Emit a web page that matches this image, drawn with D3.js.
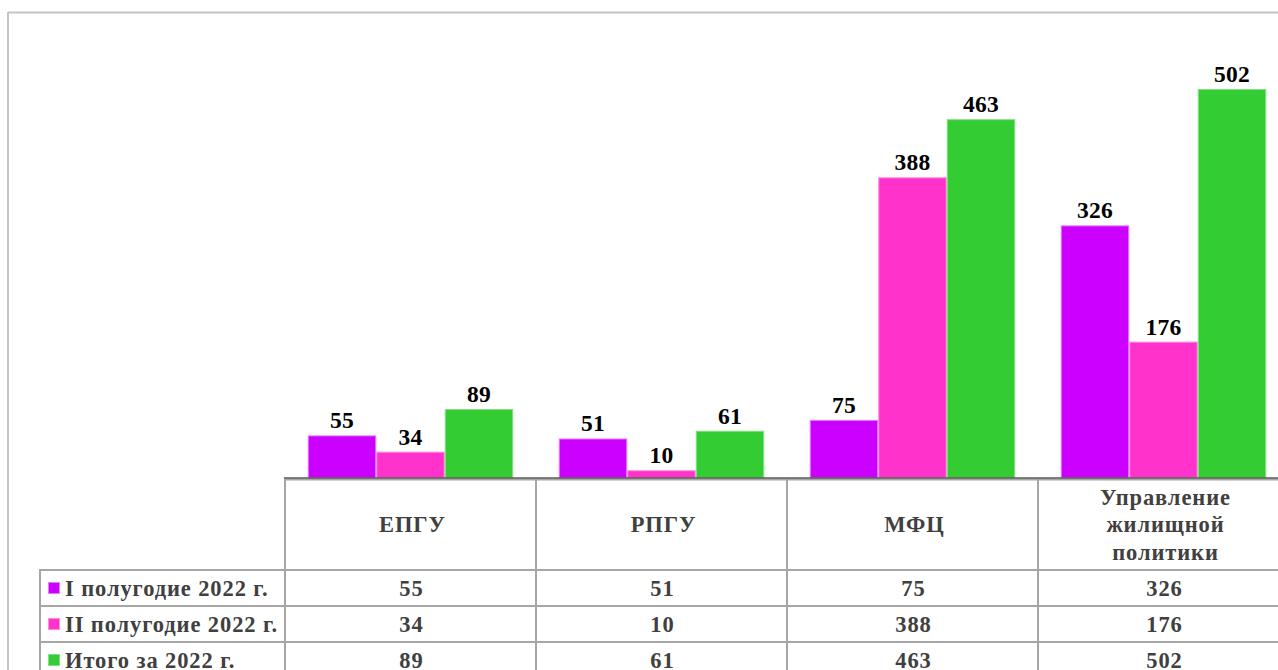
<!DOCTYPE html>
<html><head><meta charset="utf-8">
<script src="https://cdn.jsdelivr.net/npm/d3@7"></script>
<style>
html,body{margin:0;padding:0;background:#fff;}
svg{display:block;}
text{font-family:"Liberation Serif","Times New Roman",serif;font-weight:bold;}
</style></head>
<body>
<svg id="chart" width="1278" height="670"></svg>
<script>
const categories = ["ЕПГУ", "РПГУ", "МФЦ", "Управление жилищной политики"];
const categoryLines = [["ЕПГУ"], ["РПГУ"], ["МФЦ"], ["Управление", "жилищной", "политики"]];
const seriesNames = ["I полугодие 2022 г.", "II полугодие 2022 г.", "Итого за 2022 г."];
const half1 = [55, 51, 75, 326];
const half2 = [34, 10, 388, 176];
const total = [89, 61, 463, 502];
const seriesValues = [half1, half2, total];
const fills = ["#cc00ff", "#ff33cc", "#33cc33"];
const strokes = ["#e27dff", "#ff8ce0", "#85e085"];

const svg = d3.select("#chart");
const W = 1278, H = 670;
const x0 = 285, colW = 251;
const baseY = 478, topY = 13;

// outer frame
svg.append("line").attr("x1", 8).attr("x2", W).attr("y1", 12.5).attr("y2", 12.5)
  .attr("stroke", "#c4c4c4").attr("stroke-width", 2);
svg.append("line").attr("x1", 8).attr("x2", 8).attr("y1", 12).attr("y2", H)
  .attr("stroke", "#c4c4c4").attr("stroke-width", 2);

const x = d3.scaleBand().domain(categories).range([x0, x0 + colW * categories.length]).padding(0);
const xs = d3.scaleBand().domain(d3.range(seriesNames.length)).range([0, x.bandwidth()])
  .paddingInner(0).paddingOuter(0.332);
const y = d3.scaleLinear().domain([0, 600]).range([baseY, topY]);

const data = [];
categories.forEach((c, ci) => seriesValues.forEach((vals, si) => data.push({c, si, v: vals[ci]})));

const g = svg.append("g");
g.selectAll("rect.bar").data(data).join("rect").attr("class", "bar")
  .attr("x", d => x(d.c) + xs(d.si) + 0.5)
  .attr("width", xs.bandwidth() - 1)
  .attr("y", d => y(d.v) + 0.5)
  .attr("height", d => baseY - y(d.v) - 0.5)
  .attr("fill", d => fills[d.si])
  .attr("stroke", d => strokes[d.si]).attr("stroke-width", 1);

g.selectAll("text.val").data(data).join("text").attr("class", "val")
  .attr("x", d => x(d.c) + xs(d.si) + xs.bandwidth() / 2)
  .attr("y", d => y(d.v) - 7)
  .attr("text-anchor", "middle")
  .attr("font-size", 23.5).attr("letter-spacing", 0.3).attr("fill", "#000")
  .text(d => d.v);

// table
const gridColor = "#a6a6a6";
const headerBottom = 570, rowH = 36, legendLeft = 40;
const tableRight = W + 20;
const fs = 22.5, ls = 0.9;
const tg = svg.append("g");
categories.forEach((c, i) => {
  tg.append("line").attr("x1", x(c)).attr("x2", x(c)).attr("y1", baseY).attr("y2", H)
    .attr("stroke", gridColor).attr("stroke-width", 2);
});
tg.append("line").attr("x1", legendLeft).attr("x2", legendLeft).attr("y1", headerBottom).attr("y2", H)
  .attr("stroke", gridColor).attr("stroke-width", 2);
seriesNames.forEach((s, i) => {
  const yy = headerBottom + i * rowH;
  tg.append("line").attr("x1", legendLeft - 1).attr("x2", tableRight).attr("y1", yy).attr("y2", yy)
    .attr("stroke", gridColor).attr("stroke-width", 2);
});
tg.append("line").attr("x1", x0 - 1).attr("x2", tableRight).attr("y1", baseY + 1.5).attr("y2", baseY + 1.5)
  .attr("stroke", gridColor).attr("stroke-width", 2);
tg.append("line").attr("x1", x0 - 1).attr("x2", tableRight).attr("y1", baseY).attr("y2", baseY)
  .attr("stroke", "#595959").attr("stroke-width", 1.5);

const lineH = 27.5;
categories.forEach((c, i) => {
  const lines = categoryLines[i];
  const cy = (baseY + headerBottom) / 2;
  const startY = cy - (lines.length - 1) * lineH / 2 + 8;
  const t = tg.append("text").attr("text-anchor", "middle").attr("font-size", fs)
    .attr("letter-spacing", ls).attr("fill", "#404040");
  lines.forEach((l, li) => {
    t.append("tspan").attr("x", x(c) + x.bandwidth() / 2 + 2).attr("y", startY + li * lineH).text(l);
  });
});

seriesNames.forEach((s, si) => {
  const cy = headerBottom + si * rowH + rowH / 2;
  tg.append("rect").attr("x", 48.5).attr("y", cy - 5.5).attr("width", 11).attr("height", 11)
    .attr("fill", fills[si]).attr("stroke", strokes[si]).attr("stroke-width", 1);
  tg.append("text").attr("x", 65).attr("y", cy + 8).attr("font-size", fs)
    .attr("letter-spacing", ls).attr("fill", "#404040").text(s);
  categories.forEach((c, ci) => {
    tg.append("text").attr("x", x(c) + x.bandwidth() / 2 + 1).attr("y", cy + 8)
      .attr("text-anchor", "middle").attr("font-size", fs).attr("letter-spacing", ls).attr("fill", "#404040")
      .text(seriesValues[si][ci]);
  });
});
</script>
</body></html>
